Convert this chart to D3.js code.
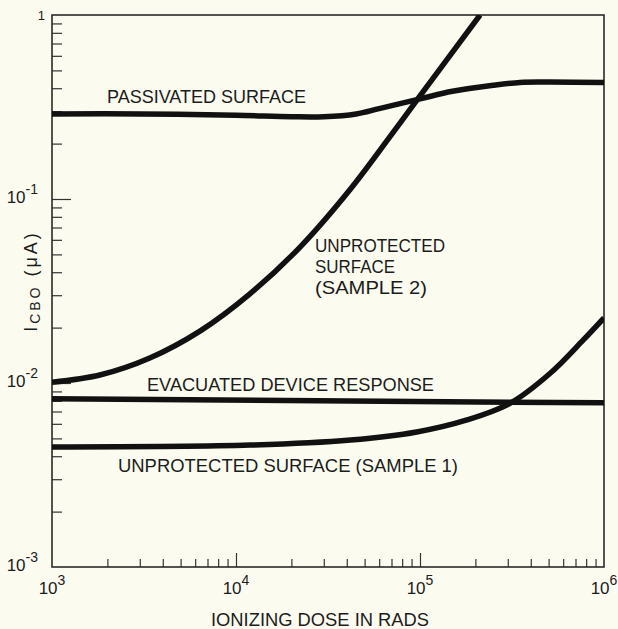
<!DOCTYPE html>
<html>
<head>
<meta charset="utf-8">
<script src="https://cdn.jsdelivr.net/npm/d3@7"></script>
<style>
  html, body { margin: 0; padding: 0; background: #fbfbef; }
  svg { display: block; }
  text { font-family: "Liberation Sans", Arial, sans-serif; fill: #1c1c1c; }
</style>
</head>
<body>
<svg id="chart" width="618" height="629"></svg>
<script>
// Ionizing dose (rads) vs collector-base leakage current I_CBO (µA)
const passivatedDose = [1e3, 3e3, 1e4, 2e4, 3e4, 4.5e4, 6e4, 1e5, 1.5e5, 2.5e5, 3.5e5, 5e5, 1e6];
const passivatedI    = [0.29, 0.29, 0.285, 0.28, 0.28, 0.29, 0.31, 0.35, 0.385, 0.415, 0.43, 0.432, 0.43];

const sample2Dose = [1e3, 1.82e3, 3.4e3, 6.4e3, 1.19e4, 2.23e4, 4.17e4, 6.79e4, 1e5, 2.12e5];
const sample2I    = [0.0101, 0.01105, 0.01367, 0.0192, 0.0305, 0.0548, 0.1126, 0.2146, 0.363, 1.0];

const evacuatedDose = [1e3, 1e6];
const evacuatedI    = [0.0082, 0.0078];

const sample1Dose = [1e3, 1.2e4, 4.2e4, 9.6e4, 1.8e5, 3.1e5, 5.1e5, 7.7e5, 1e6];
const sample1I    = [0.00449, 0.0046, 0.0049, 0.00542, 0.0063, 0.00778, 0.0113, 0.0171, 0.0226];

const xMajor = [1e3, 1e4, 1e5, 1e6];
const xMajorExp = ["3", "4", "5", "6"];
const yMajor = [1e-3, 1e-2, 1e-1];
const yMajorExp = ["-3", "-2", "-1"];
const yTopLabel = "1";

const curveLabels = [
  { lines: ["PASSIVATED SURFACE"], x: 107, y: 103, w: [199] },
  { lines: ["UNPROTECTED", "SURFACE", "(SAMPLE 2)"], x: 315, y: 252, w: [130, 80, 112] },
  { lines: ["EVACUATED DEVICE RESPONSE"], x: 147, y: 391, w: [287] },
  { lines: ["UNPROTECTED SURFACE (SAMPLE 1)"], x: 118, y: 472, w: [340] }
];

const svg = d3.select("#chart");
const L = 52, R = 604, T = 15, B = 567;

const x = d3.scaleLog().domain([1e3, 1e6]).range([L, R]);
const y = d3.scaleLog().domain([1e-3, 1]).range([B, T]);

// minor tick positions: 2..9 within each decade
function minors(lo, hi) {
  const out = [];
  for (let p = lo; p < hi; p++) for (let k = 2; k <= 9; k++) out.push(k * Math.pow(10, p));
  return out;
}

// bottom axis: ticks point up into the plot
const gx = svg.append("g").attr("transform", `translate(0,${B})`);
gx.call(d3.axisBottom(x).tickValues(minors(3, 6)).tickSize(-8).tickFormat(""));
gx.append("g").call(d3.axisBottom(x).tickValues([1e4, 1e5]).tickSize(-14).tickFormat(""));
gx.selectAll(".domain").remove();
gx.selectAll("line").attr("stroke", "#333").attr("stroke-width", 1.2);

// left axis: ticks point right into the plot
const gy = svg.append("g").attr("transform", `translate(${L},0)`);
gy.call(d3.axisLeft(y).tickValues(minors(-3, 0)).tickSize(-10).tickFormat(""));
gy.append("g").call(d3.axisLeft(y).tickValues([1e-2, 1e-1]).tickSize(-19).tickFormat(""));
gy.selectAll(".domain").remove();
gy.selectAll("line").attr("stroke", "#333").attr("stroke-width", 1.2);

// frame
svg.append("rect")
  .attr("x", L).attr("y", T).attr("width", R - L).attr("height", B - T)
  .attr("fill", "none").attr("stroke", "#2a2a2a").attr("stroke-width", 1.6);

// x tick labels 10^n
xMajor.forEach((v, i) => {
  const t = svg.append("text").attr("x", x(v)).attr("y", 594)
    .attr("text-anchor", "middle").style("font-size", "17px");
  t.append("tspan").text("10");
  t.append("tspan").attr("dy", -9).style("font-size", "14px").text(xMajorExp[i]);
});

// y tick labels 10^-n
yMajor.forEach((v, i) => {
  const t = svg.append("text").attr("x", 38).attr("y", y(v) + 4)
    .attr("text-anchor", "end").style("font-size", "17px");
  t.append("tspan").text("10");
  t.append("tspan").attr("dy", -9).style("font-size", "14px").text(yMajorExp[i]);
});
svg.append("text").attr("x", 45).attr("y", y(1) + 5)
  .attr("text-anchor", "end").style("font-size", "13px").text(yTopLabel);

// axis titles
svg.append("text").attr("x", 320).attr("y", 626).attr("text-anchor", "middle")
  .attr("textLength", 218).attr("lengthAdjust", "spacingAndGlyphs")
  .style("font-size", "18px").text("IONIZING DOSE IN RADS");

const yt = svg.append("text").attr("transform", "translate(37,281) rotate(-90)")
  .attr("text-anchor", "middle").style("font-size", "18px").style("letter-spacing", "3px");
yt.append("tspan").text("I");
yt.append("tspan").attr("dy", 3).style("font-size", "14px").text("CBO");
yt.append("tspan").attr("dy", -3).text(" (\u03BCA)");

// curves
const line = d3.line().x(d => x(d[0])).y(d => y(d[1])).curve(d3.curveCatmullRom.alpha(0.5));
const series = [
  [passivatedDose, passivatedI],
  [sample2Dose, sample2I],
  [evacuatedDose, evacuatedI],
  [sample1Dose, sample1I]
];
svg.append("defs").append("clipPath").attr("id", "plotClip")
  .append("rect").attr("x", L).attr("y", T).attr("width", R - L).attr("height", B - T);
svg.append("g").attr("clip-path", "url(#plotClip)")
  .selectAll("path").data(series).join("path")
  .attr("d", s => line(s[0].map((d, i) => [d, s[1][i]])))
  .attr("fill", "none").attr("stroke", "#111").attr("stroke-width", 5.5)
  .attr("stroke-linecap", "butt");

// curve labels
curveLabels.forEach(lab => {
  lab.lines.forEach((ln, i) => {
    svg.append("text").attr("x", lab.x).attr("y", lab.y + i * 21)
      .attr("textLength", lab.w[i]).attr("lengthAdjust", "spacingAndGlyphs")
      .style("font-size", "18px").text(ln);
  });
});
</script>
</body>
</html>
